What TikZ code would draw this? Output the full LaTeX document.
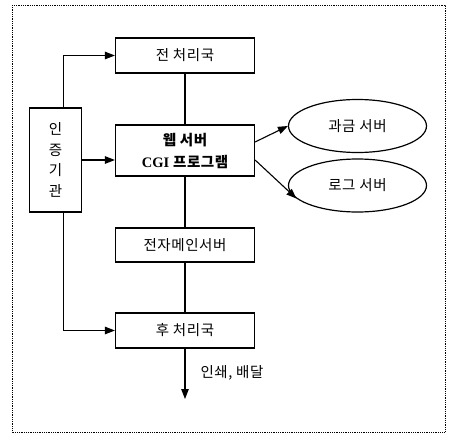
\documentclass[tikz,border=0pt]{standalone}
\usepackage{fontspec}
\setmainfont{Liberation Serif}
\newfontfamily\kr[LetterSpace=4]{Noto Sans CJK KR}
\usetikzlibrary{arrows.meta,shapes.geometric}
\tikzset{
  txt/.style={font=\kr\fontsize{14.5}{17}\selectfont},
  blk/.style={draw, line width=1.2pt, rectangle, minimum width=139pt, inner sep=0pt, txt},
  oval/.style={draw, line width=1.2pt, ellipse, minimum width=138pt, minimum height=53pt, inner sep=0pt, txt},
  link/.style={line width=1.1pt},
  flow/.style={line width=1.1pt, -{Triangle[length=10pt,width=7.5pt]}},
  frame/.style={line width=0.9pt, dash pattern=on 0.9pt off 0.9pt}
}
\begin{document}
\begin{tikzpicture}[x=1pt,y=-1pt]
  \useasboundingbox (0,0) rectangle (452,434);
  % dotted outline around the whole chart
  \draw[frame] (12,5) rectangle (445,432);

  % processing chain
  \node[blk, minimum height=35pt] (pre) at (185,55.5) {전 처리국};
  \node[blk, minimum height=51pt, align=center, font=\kr\bfseries\fontsize{14.5}{22}\selectfont] (web) at (185,150.5)
      {웹 서버\\{\rmfamily\bfseries CGI} 프로그램};
  \node[blk, minimum height=34pt] (mail) at (185,245) {전자메인서버};
  \node[blk, minimum height=35pt] (post) at (185,330.5) {후 처리국};

  % certification authority
  \node[draw, line width=1.2pt, minimum width=52pt, minimum height=104pt, inner sep=0pt,
        align=center, font=\kr\fontsize{14.5}{20.5}\selectfont] (auth) at (55.5,160) {인\\증\\기\\관};

  % side servers
  \node[oval] (bill) at (357.5,126) {과금 서버};
  \node[oval] (log) at (357.5,185.5) {로그 서버};

  % vertical links
  \draw[link] (pre) -- (web);
  \draw[link] (web) -- (mail);
  \draw[link] (mail) -- (post);

  % authority connections
  \draw[flow] ([xshift=8pt]auth.north) |- (pre.west);
  \draw[flow] (auth.east) -- (auth.east -| web.west);
  \draw[flow] ([xshift=8pt]auth.south) |- (post.west);

  % web server to side servers
  \draw[flow] ([yshift=8.5pt]web.east) -- (bill.west);
  \draw[flow] ([yshift=-9.5pt]web.east) -- (log.192);

  % output
  \coordinate (out) at (185,399);
  \draw[flow] (post.south) -- (out);
  \node[anchor=west, txt] (outlbl) at (197,373) {인쇄, 배달};
\end{tikzpicture}
\end{document}
